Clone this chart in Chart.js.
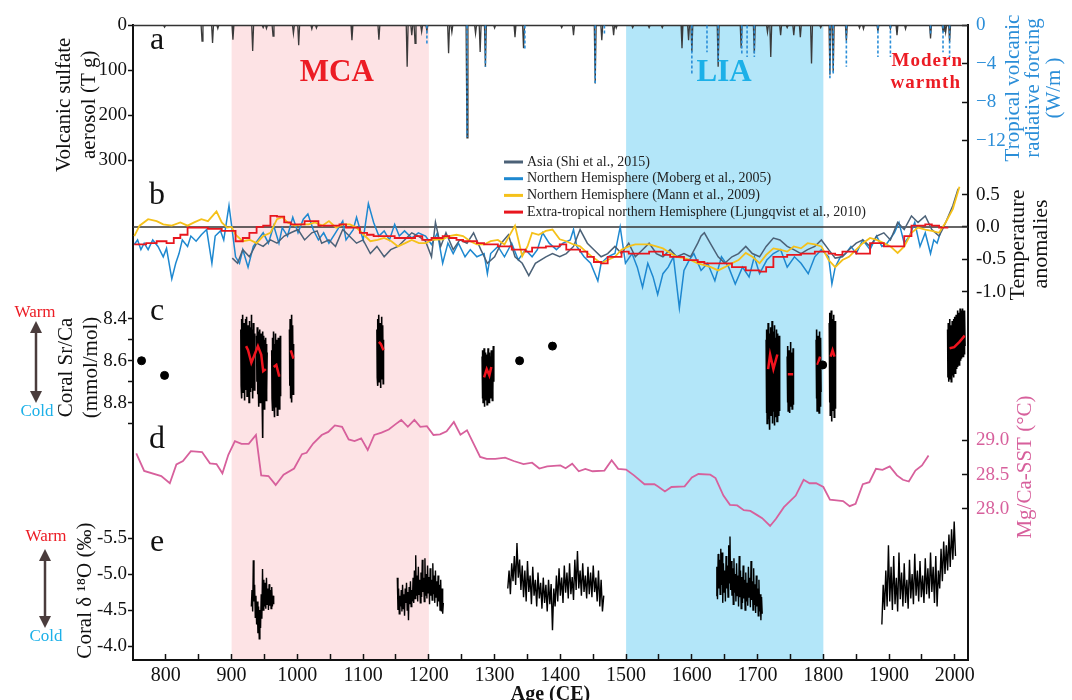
<!DOCTYPE html>
<html>
<head>
<meta charset="utf-8">
<title>Volcanic forcing, temperature and coral records</title>
<script src="https://cdn.jsdelivr.net/npm/chart.js@4.4.1/dist/chart.umd.min.js"></script>
<style>
  html, body { margin: 0; padding: 0; background: #fff; }
  #wrap { position: relative; width: 1072px; height: 700px; }
</style>
</head>
<body>
<div id="wrap"><canvas id="myChart" width="1072" height="700"></canvas></div>
<script>
// ---- data ----
var spanYears = [750, 2020];
var xTicks = [800, 850, 900, 950, 1000, 1050, 1100, 1150, 1200, 1250, 1300, 1350, 1400, 1450, 1500,
              1550, 1600, 1650, 1700, 1750, 1800, 1850, 1900, 1950, 2000];

var periodStart = [900, 1500];
var periodEnd = [1200, 1800];
var periodNames = ['MCA', 'LIA'];

// a: volcanic sulfate aerosol (Tg) and tropical radiative forcing (W/m2)
var volcYears = [798, 855, 871, 879, 902, 932, 948, 953, 963, 994, 1002, 1022, 1029, 1083, 1124,
                 1167, 1174, 1179, 1189, 1197, 1230, 1235, 1258, 1271, 1278, 1286, 1300, 1331, 1344, 1402,
                 1420, 1453, 1463, 1481, 1485, 1510, 1535, 1555, 1585, 1595, 1600, 1640, 1675, 1695, 1715,
                 1720, 1735, 1745, 1755, 1765, 1782, 1796, 1810, 1815, 1835, 1855, 1861, 1883, 1902, 1912,
                 1925, 1963, 1982, 1986, 1992];
var volcTg = [4, 35, 39, 7, 32, 57, 5, 7, 24, 18, 44, 8, 6, 33, 32,
              92, 22, 40, 14, 12, 62, 15, 250, 18, 59, 92, 6, 26, 51, 5,
              22, 129, 33, 22, 6, 5, 5, 5, 51, 33, 59, 92, 51, 62, 15,
              70, 22, 5, 22, 26, 85, 5, 110, 103, 34, 6, 8, 13, 8, 22,
              8, 29, 13, 15, 37];
var forceYears = [1197, 1258, 1286, 1346, 1453, 1467, 1600, 1623, 1640, 1676, 1684, 1695, 1810, 1815, 1835,
                  1883, 1902, 1963, 1982, 1992];
var forceWm2 = [-2.1, -11.6, -4.3, -2.4, -6.0, -1.0, -5.0, -2.8, -3.8, -3.1, -3.3, -3.3, -5.5, -5.2, -4.3,
                -3.3, -3.3, -1.0, -2.8, -3.3];

// b: temperature anomalies
var asiaYears = [901, 909, 917, 927, 938, 948, 959, 969, 980, 990, 1001, 1011, 1022, 1030, 1037, 1048, 1058, 1069, 1079, 1090,
                 1100, 1111, 1121, 1132, 1142, 1153, 1163, 1174, 1184, 1195, 1204, 1210, 1218, 1226, 1237, 1247, 1258, 1268, 1279, 1289,
                 1300, 1310, 1321, 1331, 1342, 1352, 1362, 1378, 1388, 1399, 1409, 1420, 1430, 1441, 1451, 1462, 1472, 1483, 1493, 1504,
                 1514, 1525, 1535, 1546, 1556, 1567, 1577, 1588, 1598, 1609, 1614, 1619, 1629, 1640, 1650, 1661, 1671, 1682, 1692, 1703,
                 1713, 1724, 1734, 1745, 1755, 1766, 1776, 1787, 1797, 1808, 1818, 1829, 1839, 1850, 1860, 1871, 1881, 1892, 1902, 1913,
                 1923, 1934, 1944, 1955, 1965, 1976, 1981, 1986, 1997, 2005];
var asiaT = [-0.48, -0.56, -0.35, -0.46, -0.25, -0.30, -0.20, -0.25, -0.14, -0.09, -0.04, -0.20, -0.09, -0.06, -0.25, -0.20, -0.30, -0.04, -0.14, -0.25,
             -0.20, -0.41, -0.30, -0.46, -0.35, -0.30, -0.20, -0.09, -0.14, -0.22, -0.46, 0.07, -0.30, -0.09, -0.35, -0.20, -0.25, -0.09, -0.35, -0.56,
             -0.46, -0.25, -0.12, -0.46, -0.56, -0.75, -0.56, -0.46, -0.41, -0.46, -0.41, -0.30, -0.04, -0.25, -0.35, -0.46, -0.41, -0.30, -0.41, -0.25,
             -0.46, -0.35, -0.25, -0.41, -0.46, -0.35, -0.46, -0.41, -0.46, -0.25, -0.14, -0.09, -0.27, -0.46, -0.56, -0.46, -0.41, -0.30, -0.41, -0.46,
             -0.30, -0.17, -0.20, -0.30, -0.35, -0.41, -0.35, -0.30, -0.20, -0.35, -0.48, -0.46, -0.35, -0.25, -0.20, -0.30, -0.14, -0.09, -0.20, 0.07,
             -0.04, 0.17, 0.07, 0.17, -0.04, -0.14, -0.04, 0.07, 0.33, 0.59];

var mobergYears = [752, 757, 762, 767, 773, 780, 788, 796, 801, 809, 815, 820, 825, 833, 838, 846, 854, 862, 870, 875,
                   883, 888, 896, 900, 906, 912, 917, 925, 933, 940, 948, 956, 964, 972, 977, 985, 993, 1001, 1009, 1016,
                   1024, 1032, 1040, 1048, 1058, 1069, 1074, 1085, 1090, 1100, 1108, 1116, 1124, 1132, 1140, 1148, 1155, 1163, 1174, 1184,
                   1195, 1204, 1213, 1221, 1229, 1237, 1245, 1255, 1263, 1273, 1284, 1289, 1294, 1305, 1315, 1326, 1336, 1347, 1357, 1365,
                   1373, 1383, 1394, 1404, 1415, 1420, 1425, 1436, 1446, 1457, 1462, 1472, 1483, 1491, 1499, 1509, 1517, 1525, 1533, 1541,
                   1548, 1556, 1564, 1572, 1581, 1588, 1596, 1603, 1614, 1624, 1635, 1645, 1656, 1666, 1677, 1687, 1695, 1703, 1714, 1724,
                   1735, 1745, 1756, 1766, 1777, 1787, 1797, 1808, 1813, 1818, 1826, 1834, 1842, 1850, 1860, 1871, 1881, 1889, 1897, 1908,
                   1915, 1923, 1931, 1939, 1947, 1955, 1963, 1968, 1973, 1978];
var mobergT = [-0.27, -0.20, -0.35, -0.25, -0.35, -0.20, -0.30, -0.46, -0.33, -0.80, -0.56, -0.41, -0.20, -0.30, -0.14, -0.22, -0.12, -0.04, -0.56, -0.14,
               -0.06, -0.20, 0.33, 0.02, -0.46, -0.56, -0.35, -0.62, -0.30, -0.20, -0.09, -0.25, 0.02, -0.25, -0.01, -0.14, 0.15, -0.09, 0.12, 0.20,
               -0.04, -0.20, -0.09, -0.25, -0.09, 0.09, -0.20, -0.04, 0.15, -0.20, 0.36, 0.07, -0.14, -0.06, -0.20, 0.04, -0.14, -0.06, -0.17, -0.09,
               -0.14, -0.27, -0.09, -0.56, -0.25, -0.41, -0.25, -0.46, -0.35, -0.46, -0.41, -0.72, -0.41, -0.30, -0.46, -0.25, -0.51, -0.35, -0.46, -0.35,
               -0.09, -0.25, -0.35, -0.25, -0.20, -0.04, -0.30, -0.46, -0.56, -0.83, -0.56, -0.46, -0.41, 0.00, -0.56, -0.41, -0.62, -0.93, -0.56, -0.77,
               -1.04, -0.72, -0.62, -0.46, -1.25, -0.67, -0.51, -0.41, -0.67, -0.56, -0.83, -0.46, -0.62, -0.88, -0.62, -0.77, -0.46, -0.72, -0.51, -0.41,
               -0.35, -0.62, -0.46, -0.56, -0.72, -0.46, -0.35, -0.46, -0.88, -0.62, -0.46, -0.41, -0.30, -0.41, -0.20, -0.35, -0.14, -0.30, -0.25, -0.09,
               0.07, -0.25, -0.14, 0.07, -0.30, -0.09, -0.41, -0.20, -0.25, -0.09];

var mannYears = [752, 760, 773, 786, 796, 809, 822, 833, 843, 854, 864, 877, 885, 893, 900, 906, 917, 928, 938, 948,
                 959, 969, 977, 985, 996, 1006, 1017, 1027, 1038, 1048, 1059, 1069, 1080, 1090, 1101, 1111, 1122, 1132, 1143, 1153,
                 1164, 1174, 1185, 1195, 1204, 1221, 1231, 1242, 1252, 1263, 1273, 1284, 1294, 1305, 1315, 1331, 1342, 1350, 1357, 1367,
                 1378, 1388, 1399, 1409, 1420, 1430, 1441, 1451, 1462, 1472, 1483, 1493, 1504, 1514, 1525, 1535, 1546, 1556, 1567, 1577,
                 1588, 1598, 1609, 1619, 1629, 1640, 1650, 1661, 1671, 1682, 1692, 1703, 1713, 1724, 1734, 1745, 1755, 1766, 1776, 1787,
                 1797, 1808, 1818, 1829, 1839, 1850, 1860, 1871, 1881, 1892, 1902, 1913, 1923, 1934, 1944, 1955, 1965, 1976, 1986, 1997,
                 2007];
var mannT = [-0.14, 0.02, 0.12, 0.09, 0.04, 0.02, 0.07, 0.02, 0.07, 0.12, 0.09, 0.24, 0.07, -0.01, 0.00, -0.12, -0.22, -0.20, -0.25, -0.14,
             -0.09, 0.12, 0.15, 0.07, 0.02, 0.04, 0.04, 0.07, 0.02, 0.09, -0.01, 0.04, 0.04, -0.01, -0.12, -0.22, -0.20, -0.17, -0.22, -0.30,
             -0.25, -0.20, -0.25, -0.25, -0.20, -0.19, -0.14, -0.12, -0.14, -0.22, -0.27, -0.27, -0.22, -0.20, -0.27, 0.02, -0.45, -0.30, -0.09, -0.12,
             -0.06, -0.04, -0.19, -0.22, -0.27, -0.30, -0.40, -0.48, -0.56, -0.51, -0.46, -0.35, -0.30, -0.27, -0.27, -0.27, -0.30, -0.33, -0.40, -0.46,
             -0.48, -0.51, -0.56, -0.59, -0.62, -0.67, -0.62, -0.56, -0.51, -0.40, -0.46, -0.56, -0.43, -0.33, -0.35, -0.38, -0.30, -0.33, -0.25, -0.27,
             -0.30, -0.51, -0.62, -0.51, -0.46, -0.35, -0.25, -0.17, -0.20, -0.25, -0.30, -0.40, -0.30, -0.09, -0.01, -0.04, -0.06, -0.09, 0.07, 0.28,
             0.62];

var ljungYears = [752, 770, 786, 801, 812, 822, 833, 843, 864, 885, 900, 906, 917, 927, 938, 948, 959, 969, 980, 990,
                  1001, 1011, 1022, 1032, 1043, 1053, 1064, 1074, 1085, 1095, 1106, 1116, 1127, 1137, 1148, 1158, 1169, 1179, 1190, 1204,
                  1221, 1231, 1242, 1252, 1263, 1273, 1284, 1294, 1305, 1315, 1326, 1336, 1347, 1357, 1378, 1399, 1409, 1430, 1441, 1451,
                  1462, 1472, 1493, 1504, 1514, 1535, 1556, 1567, 1588, 1609, 1619, 1640, 1661, 1682, 1703, 1713, 1724, 1745, 1766, 1787,
                  1808, 1818, 1829, 1850, 1871, 1881, 1892, 1913, 1923, 1934, 1955, 1965, 1976, 1990];
var ljungT = [-0.27, -0.25, -0.22, -0.25, -0.17, -0.12, -0.01, -0.01, -0.03, -0.06, -0.06, -0.22, -0.17, -0.09, 0.00, 0.02, 0.17, 0.16, 0.07, 0.04,
              0.04, 0.09, 0.09, 0.02, 0.02, 0.02, 0.04, -0.01, -0.01, -0.09, -0.12, -0.14, -0.14, -0.14, -0.17, -0.17, -0.17, -0.14, -0.20, -0.17,
              -0.14, -0.17, -0.20, -0.22, -0.22, -0.25, -0.27, -0.27, -0.30, -0.30, -0.35, -0.35, -0.38, -0.32, -0.30, -0.27, -0.35, -0.38, -0.46, -0.54,
              -0.56, -0.46, -0.38, -0.41, -0.41, -0.38, -0.43, -0.46, -0.51, -0.54, -0.56, -0.56, -0.62, -0.67, -0.69, -0.62, -0.46, -0.43, -0.41, -0.38,
              -0.41, -0.43, -0.38, -0.41, -0.25, -0.25, -0.30, -0.30, -0.14, 0.02, 0.04, 0.02, -0.01, -0.01];

// c: coral Sr/Ca (mmol/mol), half-year steps inside each coral run
var srcaStart = [914, 938, 961, 988, 1121, 1281, 1713, 1745, 1789, 1809, 1989];
var srcaRuns = [
  [8.45, 8.72, 8.40, 8.78, 8.50, 8.70, 8.38, 8.75, 8.48, 8.66, 8.42, 8.79, 8.52, 8.68, 8.40, 8.74, 8.47, 8.70, 8.39, 8.77, 8.50, 8.64,
   8.43, 8.72, 8.46, 8.80, 8.41, 8.69, 8.52, 8.75, 8.44, 8.67, 8.38, 8.73, 8.49, 8.71, 8.45, 8.78, 8.42, 8.66, 8.50, 8.74, 8.47, 8.69],
  [8.48, 8.70, 8.44, 8.76, 8.50, 8.68, 8.46, 8.82, 8.52, 8.74, 8.45, 8.80, 8.55, 8.78, 8.47, 8.72, 8.51, 8.80, 8.46, 8.97, 8.53, 8.75,
   8.48, 8.83, 8.50, 8.77, 8.55, 8.70, 8.49, 8.79, 8.52, 8.74, 8.56],
  [8.55, 8.78, 8.49, 8.84, 8.58, 8.72, 8.46, 8.80, 8.60, 8.87, 8.52, 8.75, 8.47, 8.82, 8.57, 8.70, 8.50, 8.86, 8.55, 8.74, 8.49, 8.79,
   8.60, 8.83, 8.53, 8.71, 8.48, 8.77],
  [8.45, 8.72, 8.40, 8.78, 8.48, 8.66, 8.38, 8.80, 8.50, 8.70, 8.43, 8.76, 8.52, 8.68],
  [8.45, 8.68, 8.40, 8.72, 8.50, 8.62, 8.38, 8.70, 8.47, 8.65, 8.42, 8.73, 8.52, 8.60, 8.39, 8.69, 8.48, 8.66, 8.43, 8.71, 8.50],
  [8.58, 8.78, 8.55, 8.80, 8.62, 8.74, 8.54, 8.82, 8.60, 8.72, 8.56, 8.79, 8.63, 8.76, 8.57, 8.81, 8.59, 8.70, 8.54, 8.77, 8.61, 8.80,
   8.56, 8.73, 8.58, 8.78, 8.62, 8.71, 8.55, 8.76, 8.60, 8.79, 8.57, 8.74, 8.53, 8.70, 8.60],
  [8.50, 8.85, 8.45, 8.90, 8.55, 8.78, 8.42, 8.88, 8.52, 8.82, 8.47, 8.93, 8.56, 8.80, 8.44, 8.86, 8.50, 8.76, 8.41, 8.90, 8.54, 8.84,
   8.46, 8.79, 8.52, 8.91, 8.43, 8.83, 8.49, 8.87, 8.55, 8.77, 8.45, 8.89, 8.51, 8.81, 8.47, 8.86, 8.53, 8.78, 8.48, 8.84],
  [8.58, 8.80, 8.53, 8.84, 8.60, 8.76, 8.55, 8.85, 8.62, 8.78, 8.51, 8.82, 8.59, 8.74, 8.56, 8.83, 8.61, 8.79, 8.54, 8.81],
  [8.50, 8.78, 8.45, 8.84, 8.55, 8.72, 8.48, 8.80, 8.52, 8.85, 8.46, 8.76, 8.54, 8.82, 8.49, 8.75],
  [8.42, 8.80, 8.37, 8.86, 8.45, 8.75, 8.36, 8.89, 8.48, 8.78, 8.40, 8.84, 8.46, 8.72, 8.38, 8.87, 8.44, 8.79, 8.41, 8.83],
  [8.45, 8.68, 8.42, 8.70, 8.48, 8.64, 8.40, 8.69, 8.46, 8.66, 8.43, 8.70, 8.50, 8.63, 8.41, 8.67, 8.47, 8.65, 8.40, 8.68, 8.44, 8.62,
   8.39, 8.66, 8.45, 8.61, 8.38, 8.64, 8.43, 8.60, 8.36, 8.63, 8.42, 8.58, 8.37, 8.62, 8.41, 8.57, 8.35, 8.60, 8.40, 8.56, 8.36, 8.59,
   8.39, 8.55, 8.35, 8.58, 8.38, 8.54, 8.36, 8.57, 8.37, 8.53]
];
var srcaSmoothYears = [922, 925, 930, 935, 940, 945, 948, 952, null, 964, 968, 972, 974, null, 990, 994, null,
                       1124, 1127, 1131, null, 1284, 1288, 1292, 1295, null, 1716, 1719, 1724, 1730, null,
                       1746, 1754, null, 1791, 1795, null, 1811, 1814, 1817, null, 1992, 1999, 2007, 2015];
var srcaSmoothValues = [8.53, 8.55, 8.61, 8.57, 8.53, 8.57, 8.65, 8.64, null, 8.63, 8.62, 8.67, 8.67, null, 8.55, 8.59, null,
                        8.51, 8.52, 8.55, null, 8.68, 8.64, 8.67, 8.63, null, 8.64, 8.57, 8.64, 8.57, null,
                        8.665, 8.665, null, 8.62, 8.58, null, 8.58, 8.55, 8.58, null, 8.54, 8.535, 8.51, 8.48];
var srcaDotYears = [763, 798, 1338, 1388, 1799];
var srcaDotValues = [8.60, 8.67, 8.60, 8.53, 8.62];

// d: Mg/Ca-SST (deg C)
var sstYears = [755, 767, 793, 806, 816, 826, 838, 855, 867, 877, 886, 895, 905, 915, 926, 937, 945, 956, 967, 979,
                995, 1007, 1014, 1024, 1037, 1047, 1057, 1068, 1078, 1087, 1097, 1107, 1117, 1128, 1139, 1149, 1158, 1168, 1178, 1187,
                1197, 1207, 1217, 1227, 1238, 1248, 1258, 1268, 1278, 1288, 1301, 1316, 1329, 1344, 1357, 1368, 1380, 1400, 1408, 1418,
                1428, 1438, 1449, 1467, 1478, 1488, 1500, 1512, 1528, 1543, 1548, 1559, 1569, 1589, 1600, 1610, 1628, 1636, 1648, 1658,
                1669, 1679, 1689, 1700, 1707, 1719, 1728, 1740, 1758, 1770, 1779, 1789, 1800, 1810, 1820, 1830, 1840, 1849, 1860, 1870,
                1880, 1890, 1901, 1912, 1921, 1930, 1940, 1950, 1960];
var sstValues = [28.81, 28.555, 28.48, 28.375, 28.65, 28.70, 28.845, 28.83, 28.665, 28.655, 28.52, 28.79, 28.99, 28.95, 28.95, 29.08, 28.49, 28.48, 28.35, 28.50,
                 28.59, 28.80, 28.82, 28.955, 29.08, 29.125, 29.22, 29.20, 29.015, 28.99, 29.03, 28.86, 29.08, 29.115, 29.16, 29.235, 29.30, 29.20, 29.30, 29.20,
                 29.21, 29.08, 29.09, 29.135, 29.27, 29.085, 29.15, 28.955, 28.76, 28.73, 28.73, 28.75, 28.70, 28.655, 28.675, 28.59, 28.62, 28.635, 28.595, 28.66,
                 28.55, 28.585, 28.55, 28.56, 28.71, 28.585, 28.575, 28.49, 28.36, 28.36, 28.33, 28.255, 28.32, 28.33, 28.46, 28.51, 28.50, 28.45, 28.195, 28.06,
                 28.05, 27.98, 27.97, 27.905, 27.865, 27.75, 27.855, 28.025, 28.195, 28.425, 28.375, 28.375, 28.32, 28.135, 28.125, 28.115, 28.04, 28.075, 28.36, 28.39,
                 28.585, 28.57, 28.62, 28.49, 28.425, 28.40, 28.56, 28.635, 28.78];

// e: coral d18O (per mil)
var d18oStart = [930, 1152, 1320, 1637, 1889];
var d18oStep = [1, 1, 2, 1, 2];
var d18oRuns = [
  [-4.55, -4.78, -4.48, -5.19, -4.62, -4.85, -4.40, -4.70, -4.30, -4.62, -4.18, -4.55, -4.10, -4.50, -4.25, -4.72, -4.38, -5.07,
   -4.50, -4.92, -4.55, -4.88, -4.52, -4.95, -4.58, -4.80, -4.50, -4.86, -4.56, -4.78, -4.52, -4.82, -4.55, -4.70, -4.58],
  [-4.95, -4.50, -4.80, -4.45, -4.70, -4.55, -4.78, -4.48, -4.85, -4.52, -4.72, -4.42, -4.80, -4.60, -4.88, -4.50, -4.75, -4.36,
   -4.82, -4.58, -4.90, -4.55, -4.78, -4.62, -4.95, -4.60, -5.05, -4.66, -5.26, -4.70, -4.98, -4.62, -5.10, -4.72, -4.92, -4.60,
   -5.02, -4.68, -5.20, -4.75, -4.95, -4.62, -5.22, -4.70, -5.00, -4.66, -5.12, -4.74, -4.96, -4.58, -5.08, -4.70, -4.92, -4.64,
   -5.15, -4.72, -4.98, -4.60, -5.05, -4.68, -4.90, -4.55, -4.98, -4.62, -4.85, -4.50, -4.92, -4.48, -4.80, -4.45, -4.60],
  [-4.80, -5.05, -4.72, -5.15, -4.90, -5.25, -4.85, -5.43, -4.95, -5.20, -4.78, -5.12, -4.68, -5.05, -4.62, -5.18, -4.75, -4.98,
   -4.58, -5.10, -4.70, -4.92, -4.55, -5.02, -4.66, -4.88, -4.52, -4.95, -4.60, -4.85, -4.48, -4.92, -4.58, -4.86, -4.22, -4.80,
   -4.55, -4.98, -4.62, -5.08, -4.70, -4.95, -4.60, -5.12, -4.74, -5.02, -4.66, -5.15, -4.72, -4.96, -4.64, -5.20, -4.78, -5.32,
   -4.80, -5.05, -4.70, -5.15, -4.75, -4.98, -4.66, -5.10, -4.72, -5.02, -4.68, -5.12, -4.75, -4.95, -4.62, -5.05, -4.55, -4.92,
   -4.48, -4.70],
  [-4.70, -5.10, -4.65, -5.28, -4.80, -5.20, -4.72, -5.35, -4.85, -5.30, -4.60, -5.15, -4.75, -5.05, -4.62, -5.25, -4.80, -5.12,
   -4.68, -5.40, -4.88, -5.52, -4.78, -5.18, -4.70, -5.08, -4.58, -5.22, -4.74, -5.00, -4.62, -5.15, -4.70, -4.98, -4.55, -5.25,
   -4.68, -5.05, -4.52, -4.96, -4.60, -5.12, -4.66, -4.92, -4.50, -5.02, -4.62, -4.88, -4.56, -5.10, -4.68, -4.95, -4.54, -5.18,
   -4.64, -4.90, -4.50, -5.08, -4.58, -4.86, -4.46, -4.98, -4.55, -4.80, -4.42, -4.92, -4.48, -4.72, -4.36, -4.68, -4.45],
  [-4.30, -4.85, -4.50, -5.05, -4.55, -5.40, -4.62, -5.10, -4.50, -5.25, -4.58, -4.95, -4.48, -5.30, -4.65, -5.02, -4.55, -5.15,
   -4.60, -4.92, -4.52, -5.20, -4.66, -5.00, -4.58, -5.28, -4.70, -5.05, -4.62, -5.18, -4.68, -4.98, -4.60, -5.22, -4.72, -5.08,
   -4.66, -5.30, -4.75, -5.10, -4.60, -5.25, -4.55, -5.05, -4.80, -5.35, -4.90, -5.45, -5.00, -5.40, -5.05, -5.55, -5.10, -5.62,
   -5.20, -5.73, -5.25]
];

// tick values for each axis
var volcTicks = [0, 100, 200, 300];
var forceTicks = [0, -4, -8, -12];
var tempTicks = [0.5, 0, -0.5, -1.0];
var srcaTicks = [8.4, 8.5, 8.6, 8.7, 8.8, 8.9];
var sstTicks = [28.0, 28.5, 29.0];
var d18oTicks = [-5.5, -5.0, -4.5, -4.0];

// ---- helpers ----
var serif = "'Liberation Serif', 'Times New Roman', serif";
var RED = '#ec1c24', CYAN = '#1cb0e8', BLUE = '#2b8ed8', PINK = '#d7609c';

function pts(xs, ys) {
  var out = [];
  var n = Math.min(xs.length, ys.length);
  for (var i = 0; i < n; i++) out.push({x: xs[i], y: ys[i]});
  return out;
}

// thin wedge from the baseline to each value
function spikes(xs, ys, half) {
  var out = [];
  for (var i = 0; i < xs.length; i++) {
    out.push({x: xs[i] - half, y: 0}, {x: xs[i], y: ys[i]}, {x: xs[i] + half, y: 0}, {x: xs[i], y: null});
  }
  return out;
}

function drops(xs, ys) {
  var out = [];
  for (var i = 0; i < xs.length; i++) {
    out.push({x: xs[i], y: 0}, {x: xs[i], y: ys[i]}, {x: xs[i], y: null});
  }
  return out;
}

function runs(starts, steps, lists) {
  var out = [];
  for (var r = 0; r < lists.length; r++) {
    var step = Array.isArray(steps) ? steps[r] : steps;
    for (var j = 0; j < lists[r].length; j++) out.push({x: starts[r] + j * step, y: lists[r][j]});
    out.push({x: null, y: null});
  }
  return out;
}

function setTicks(list) {
  return function(scale) {
    scale.ticks = list.map(function(v) { return {value: v}; });
  };
}

function leftAxis(weight, order, min, max, ticks, fmt, title, titlePad) {
  return {
    type: 'linear', position: 'left', stack: 'left', stackWeight: weight, weight: order,
    min: min, max: max, reverse: true,
    afterFit: function(s) { s.width = 133; },
    afterBuildTicks: setTicks(ticks),
    ticks: {autoSkip: false, color: '#111', font: {family: serif, size: 19}, padding: 1, callback: fmt},
    grid: {drawOnChartArea: false, tickLength: 5, tickColor: '#111', tickWidth: 1.5},
    border: {color: '#111', width: 2},
    title: {display: true, text: title, color: '#111', font: {family: serif, size: 21},
            padding: {top: titlePad, bottom: 0}}
  };
}

function rightAxis(weight, order, min, max, ticks, fmt, color) {
  return {
    type: 'linear', position: 'right', stack: 'right', stackWeight: weight, weight: order,
    min: min, max: max,
    afterFit: function(s) { s.width = 104; },
    afterBuildTicks: setTicks(ticks),
    ticks: {autoSkip: false, color: color, font: {family: serif, size: 19}, padding: 14, callback: fmt},
    grid: {drawOnChartArea: false, tickLength: -6, tickColor: '#111', tickWidth: 1.5},
    border: {color: '#111', width: 2}
  };
}

function fillerAxis(pos, weight, order) {
  return {
    type: 'linear', position: pos, stack: pos, stackWeight: weight, weight: order, min: 0, max: 1,
    afterFit: function(s) { s.width = pos === 'left' ? 133 : 104; },
    ticks: {display: false},
    grid: {display: false},
    border: {color: '#111', width: 2}
  };
}

function oneDecimal(v) { return v.toFixed(1); }

function vText(ctx, txt, x, y) {
  ctx.save();
  ctx.translate(x, y);
  ctx.rotate(-Math.PI / 2);
  ctx.fillText(txt, 0, 0);
  ctx.restore();
}

function vArrow(ctx, x, y1, y2) {
  var h = 12, w = 6;
  ctx.beginPath(); ctx.moveTo(x, y1 + h - 2); ctx.lineTo(x, y2 - h + 2); ctx.stroke();
  ctx.beginPath(); ctx.moveTo(x, y1); ctx.lineTo(x - w, y1 + h); ctx.lineTo(x + w, y1 + h); ctx.closePath(); ctx.fill();
  ctx.beginPath(); ctx.moveTo(x, y2); ctx.lineTo(x - w, y2 - h); ctx.lineTo(x + w, y2 - h); ctx.closePath(); ctx.fill();
}

// shaded periods go under everything, texts and legend on top
var figurePlugin = {
  id: 'figure',
  beforeDraw: function(chart) {
    var ctx = chart.ctx, a = chart.chartArea, x = chart.scales.x;
    var fills = ['#fde3e5', '#b3e6f9'];
    ctx.save();
    for (var i = 0; i < periodStart.length; i++) {
      var x0 = x.getPixelForValue(periodStart[i]), x1 = x.getPixelForValue(periodEnd[i]);
      ctx.fillStyle = fills[i];
      ctx.fillRect(x0, a.top, x1 - x0, a.bottom - a.top);
    }
    ctx.restore();
  },
  afterDatasetsDraw: function(chart) {
    var ctx = chart.ctx;
    var items = chart.data.datasets.filter(function(d) { return d.legendRank; })
      .sort(function(p, q) { return p.legendRank - q.legendRank; });
    ctx.save();
    ctx.font = '14px ' + serif;
    ctx.textAlign = 'left';
    ctx.textBaseline = 'middle';
    items.forEach(function(d, i) {
      var y = 162 + i * 16.7;
      ctx.strokeStyle = d.borderColor;
      ctx.lineWidth = 3;
      ctx.beginPath(); ctx.moveTo(504, y); ctx.lineTo(523, y); ctx.stroke();
      ctx.fillStyle = '#222';
      ctx.fillText(d.label, 527, y);
    });
    ctx.restore();
  },
  afterDraw: function(chart) {
    var ctx = chart.ctx, x = chart.scales.x, a = chart.chartArea;
    ctx.save();
    ctx.textAlign = 'center';
    ctx.textBaseline = 'middle';

    // period names
    ctx.font = 'bold 31px ' + serif;
    ctx.fillStyle = RED;
    ctx.fillText(periodNames[0], x.getPixelForValue(1060), 73);
    ctx.fillStyle = CYAN;
    ctx.fillText(periodNames[1], x.getPixelForValue(1649), 73);
    ctx.font = 'bold 19px ' + serif;
    ctx.fillStyle = RED;
    ctx.letterSpacing = '1px';
    ctx.textAlign = 'right';
    ctx.fillText('Modern', a.right - 5, 61);
    ctx.fillText('warmth', a.right - 7, 83);
    ctx.letterSpacing = '0px';

    // panel letters
    ctx.textAlign = 'center';
    ctx.fillStyle = '#111';
    ctx.font = '32px ' + serif;
    var letters = ['a', 'b', 'c', 'd', 'e'];
    var letterY = [41, 196, 312, 440, 543];
    for (var i = 0; i < letters.length; i++) ctx.fillText(letters[i], 157, letterY[i]);

    // warm / cold indicators
    ctx.font = '17px ' + serif;
    ctx.strokeStyle = '#4a3c3c';
    ctx.fillStyle = '#4a3c3c';
    ctx.lineWidth = 2.5;
    vArrow(ctx, 36, 321, 403);
    vArrow(ctx, 45, 549, 628);
    ctx.fillStyle = RED;
    ctx.fillText('Warm', 35, 313);
    ctx.fillText('Warm', 46, 537);
    ctx.fillStyle = CYAN;
    ctx.fillText('Cold', 37, 412);
    ctx.fillText('Cold', 46, 637);

    // right-hand axis titles
    ctx.fillStyle = BLUE;
    ctx.font = '21px ' + serif;
    vText(ctx, 'Tropical volcanic', 1013, 88);
    vText(ctx, 'radiative forcing', 1033, 88);
    vText(ctx, '(W/m )', 1054, 88);
    ctx.fillStyle = '#111';
    ctx.font = '22px ' + serif;
    vText(ctx, 'Temperature', 1018, 245);
    vText(ctx, 'anomalies', 1041, 244);
    ctx.fillStyle = PINK;
    ctx.font = '21px ' + serif;
    vText(ctx, 'Mg/Ca-SST (\u00B0C)', 1025, 467);
    ctx.restore();
  }
};

var ctx = document.getElementById('myChart');
var chart = new Chart(ctx, {
  type: 'line',
  data: {
    datasets: [
      {label: 'Volcanic baseline', data: pts(spanYears, [0, 0]), yAxisID: 'yA', borderColor: '#333', borderWidth: 1.5, order: 20},
      {label: 'Volcanic sulfate aerosol', data: spikes(volcYears, volcTg, 1.4), yAxisID: 'yA', borderColor: '#3a3a3a', borderWidth: 1.3, order: 19},
      {label: 'Tropical volcanic radiative forcing', data: drops(forceYears, forceWm2), yAxisID: 'yAr', borderColor: BLUE, borderWidth: 1.6, borderDash: [3, 2], order: 18},
      {label: 'Zero line', data: pts(spanYears, [0, 0]), yAxisID: 'yB', borderColor: '#333', borderWidth: 1.5, order: 17},
      {label: 'Northern Hemisphere (Moberg et al., 2005)', legendRank: 2, data: pts(mobergYears, mobergT), yAxisID: 'yB', borderColor: '#1e88d0', borderWidth: 1.5, order: 16},
      {label: 'Asia (Shi et al., 2015)', legendRank: 1, data: pts(asiaYears, asiaT), yAxisID: 'yB', borderColor: '#4b6177', borderWidth: 1.5, order: 15},
      {label: 'Northern Hemisphere (Mann et al., 2009)', legendRank: 3, data: pts(mannYears, mannT), yAxisID: 'yB', borderColor: '#f5c11a', borderWidth: 1.8, order: 14},
      {label: 'Extra-tropical northern Hemisphere (Ljungqvist et al., 2010)', legendRank: 4, data: pts(ljungYears, ljungT), yAxisID: 'yB', borderColor: '#e8161e', borderWidth: 1.8, stepped: true, order: 13},
      {label: 'Coral Sr/Ca', data: runs(srcaStart, 0.5, srcaRuns), yAxisID: 'yC', borderColor: '#000', borderWidth: 1.6, order: 12},
      {label: 'Coral Sr/Ca smoothed', data: pts(srcaSmoothYears, srcaSmoothValues), yAxisID: 'yC', borderColor: '#f0141e', borderWidth: 2.5, order: 11},
      {label: 'Coral Sr/Ca single samples', data: pts(srcaDotYears, srcaDotValues), yAxisID: 'yC', showLine: false, pointRadius: 4, pointBackgroundColor: '#000', pointBorderColor: '#000', order: 10},
      {label: 'Mg/Ca-SST', data: pts(sstYears, sstValues), yAxisID: 'yD', borderColor: PINK, borderWidth: 1.8, order: 9},
      {label: 'Coral d18O', data: runs(d18oStart, d18oStep, d18oRuns), yAxisID: 'yE', borderColor: '#000', borderWidth: 1.4, order: 8}
    ]
  },
  options: {
    responsive: false,
    animation: false,
    devicePixelRatio: 1,
    events: [],
    layout: {padding: {top: 20, left: 0, right: 0, bottom: 0}},
    datasets: {line: {clip: false, pointRadius: 0, fill: false, tension: 0, spanGaps: false}},
    plugins: {legend: {display: false}, tooltip: {enabled: false}},
    scales: {
      x: {
        type: 'linear', position: 'bottom', min: spanYears[0], max: spanYears[1],
        afterFit: function(s) { s.height = 40; },
        afterBuildTicks: setTicks(xTicks),
        ticks: {autoSkip: false, maxRotation: 0, color: '#111', font: {family: serif, size: 20}, padding: 10,
                callback: function(v) { return v % 100 === 0 ? String(v) : ''; }},
        grid: {drawOnChartArea: false, tickLength: -6, tickColor: '#111', tickWidth: 1.5},
        border: {color: '#111', width: 2},
        title: {display: true, text: 'Age (CE)', color: '#111', font: {family: serif, size: 20, weight: 'bold'},
                padding: {top: 0, bottom: -7}}
      },
      yA: leftAxis(160, 5, 0, 353, volcTicks, function(v) { return String(v); },
                   ['Volcanic sulfate', 'aerosol (T g)'], 52),
      yBL: fillerAxis('left', 120, 4),
      yC: leftAxis(130, 3, 8.324, 8.9405, srcaTicks,
                   function(v) { return Math.round(v * 10) % 2 === 0 ? v.toFixed(1) : ''; },
                   ['Coral Sr/Ca', '(mmol/mol)'], 54),
      yDL: fillerAxis('left', 90, 2),
      yE: leftAxis(140, 1, -5.734, -3.807, d18oTicks, oneDecimal, 'Coral \u03B4 \u00B9\u2078O (\u2030)', 73),
      yAr: rightAxis(145, 1, -14.96, 0, forceTicks,
                     function(v) { return v === 0 ? '0' : '\u2212' + Math.abs(v); }, BLUE),
      yB: rightAxis(135, 2, -1.173, 0.891, tempTicks, oneDecimal, '#111'),
      yCR: fillerAxis('right', 105, 3),
      yD: rightAxis(255, 4, 25.791, 29.487, sstTicks, oneDecimal, PINK)
    }
  },
  plugins: [figurePlugin]
});
</script>
</body>
</html>
